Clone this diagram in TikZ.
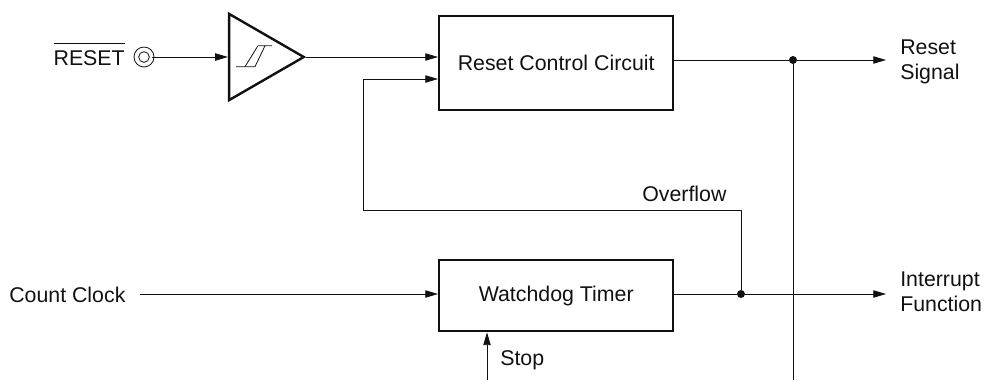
\documentclass[tikz,border=0pt]{standalone}
\usepackage{fontspec}
\setmainfont{Liberation Sans}
\usetikzlibrary{arrows.meta,positioning,shapes.geometric}
\definecolor{inkblack}{HTML}{111111}
\begin{document}
\begin{tikzpicture}[
    x=0.75pt, y=-0.75pt,
    blockbox/.style={draw=inkblack, line width=1.8pt, minimum height=#1*0.75pt, inner sep=0pt, anchor=north west, font=\fontsize{16}{18.7}\selectfont, text=inkblack},
    buffer/.style={draw=inkblack, line width=1.8pt, isosceles triangle, isosceles triangle apex angle=60, minimum height=56pt, inner sep=0pt},
    label/.style={font=\fontsize{16}{18.7}\selectfont, text=inkblack, inner sep=0pt},
    arrow/.style={-{Triangle[length=9.5pt,width=5.5pt]}, line width=0.6pt, color=inkblack},
    wire/.style={line width=0.6pt, color=inkblack},
    junction/.style={circle, fill=inkblack, minimum size=6pt, inner sep=0pt},
]
\useasboundingbox (0,0) rectangle (984,380);
\node[blockbox=94, minimum width=175.5pt] (reset) at (438,15) {Reset Control Circuit};
\node[blockbox=71, minimum width=175.5pt] (watchdog) at (438,259) {Watchdog Timer};
\node[buffer] (schmitt) at (254,57) {};
\node[circle, draw=inkblack, line width=0.6pt, minimum size=15pt, inner sep=0pt] (pin) at (144,57) {};
\node[circle, draw=inkblack, line width=0.6pt, minimum size=8pt, inner sep=0pt] (pincore) at (pin) {};
\node[label, anchor=base east] (resetin) at (125,65) {$\overline{\mbox{\rule{0pt}{15pt}RESET}}$};
\node[label, anchor=west] (count) at (9,295) {Count Clock};
\node[label, anchor=west, align=left] (resetout) at (900,62) {Reset\\Signal};
\node[label, anchor=west, align=left] (intout) at (900,292) {Interrupt\\Function};
\node[label, anchor=west] (overflow) at (642,194) {Overflow};
\node[label, anchor=west] (stop) at (500,360) {Stop};
\node[junction] (jreset) at (793,60) {};
\node[junction] (jover) at (741,294) {};
\coordinate (resetend) at (886,60);
\coordinate (intend) at (886,294);
\coordinate (countstart) at (140,294);
\coordinate (botreset) at (793,380);
\coordinate (stopstart) at (487,380);
\coordinate (fbin) at (438,79);
\coordinate (fbturn) at (363,210);

\draw[arrow] (pin) ++(7.5,0) -- (schmitt.west |- pin);
\draw[arrow] (schmitt.apex) -- (schmitt.apex -| reset.west);
\draw[wire] (reset.east |- jreset) -- (jreset);
\draw[arrow] (jreset) -- (resetend);
\draw[wire] (jreset) -- (botreset);
\draw[arrow] (jover) |- (fbturn) |- (fbin);
\draw[arrow] (countstart) -- (countstart -| watchdog.west);
\draw[wire] (watchdog.east |- jover) -- (jover);
\draw[arrow] (jover) -- (intend);
\draw[arrow] (stopstart) -- (stopstart |- watchdog.south);
\draw[wire] (236,66.7) -- (255,66.7) -- (265,45.7) -- (272,45.7);
\draw[wire] (245,66.7) -- (258,45.7) -- (265,45.7);
\end{tikzpicture}
\end{document}
